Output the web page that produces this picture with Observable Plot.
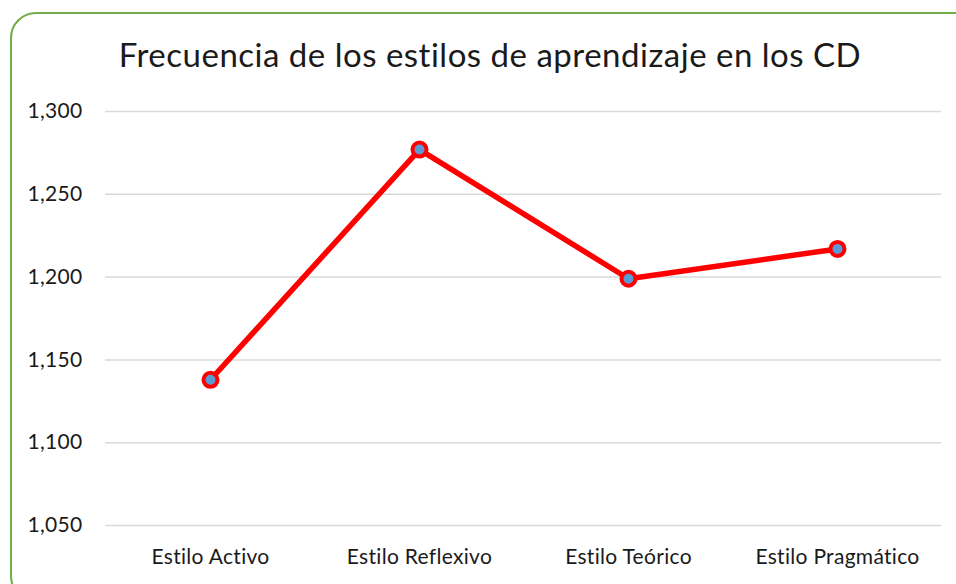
<!DOCTYPE html>
<html>
<head>
<meta charset="utf-8">
<script src="https://cdn.jsdelivr.net/npm/d3@7"></script>
<script src="https://cdn.jsdelivr.net/npm/@observablehq/plot@0.6"></script>
<style>
  html, body { margin: 0; padding: 0; background: #fff; }
  #wrap { position: relative; width: 956px; height: 584px; overflow: hidden; font-family: Lato, "Open Sans", sans-serif; }
  #frame { position: absolute; left: 10px; top: 12px; width: 975px; height: 590px; border: 2px solid #70AD47; border-radius: 26px; box-sizing: border-box; }
  #title { position: absolute; left: 0; width: 980px; top: 34px; text-align: center; font-size: 33px; letter-spacing: 0.5px; color: #1a1a1a; }
  #chart { position: absolute; left: 0; top: 0; }
</style>
</head>
<body>
<div id="wrap">
  <div id="frame"></div>
  <div id="title">Frecuencia de los estilos de aprendizaje en los CD</div>
  <div id="chart"></div>
</div>
<script>
const categories = ["Estilo Activo", "Estilo Reflexivo", "Estilo Teórico", "Estilo Pragmático"];
const values = [1138, 1277, 1199, 1217];
const yTicks = [1050, 1100, 1150, 1200, 1250, 1300];

const data = categories.map((c, i) => ({cat: c, v: values[i]}));

const chart = Plot.plot({
  width: 956,
  height: 584,
  marginTop: 111,
  marginBottom: 59,
  marginLeft: 105,
  marginRight: 15,
  style: {fontFamily: "Lato, 'Open Sans', sans-serif", fontSize: "21px", color: "#1a1a1a", background: "transparent", letterSpacing: "0.3px"},
  x: {type: "point", domain: categories, padding: 0.5, label: null, tickSize: 0, tickPadding: 24},
  y: {domain: [1050, 1300], ticks: yTicks, tickFormat: d3.format(","), label: null, tickSize: 0, tickPadding: 23},
  marks: [
    Plot.ruleY(yTicks, {stroke: "#d9d9d9", strokeWidth: 1.5}),
    Plot.line(data, {x: "cat", y: "v", stroke: "#ff0000", strokeWidth: 5.5, strokeLinejoin: "round", style: "filter: drop-shadow(3px 4px 3px rgba(0,0,0,0.4))"}),
    Plot.dot(data, {x: "cat", y: "v", r: 7, fill: "#5B9BD5", stroke: "#ff0000", strokeWidth: 4, style: "filter: drop-shadow(3px 4px 3px rgba(0,0,0,0.4))"})
  ]
});
chart.querySelectorAll("text").forEach(t => t.setAttribute("fill", "#1a1a1a"));
document.getElementById("chart").appendChild(chart);
</script>
</body>
</html>
